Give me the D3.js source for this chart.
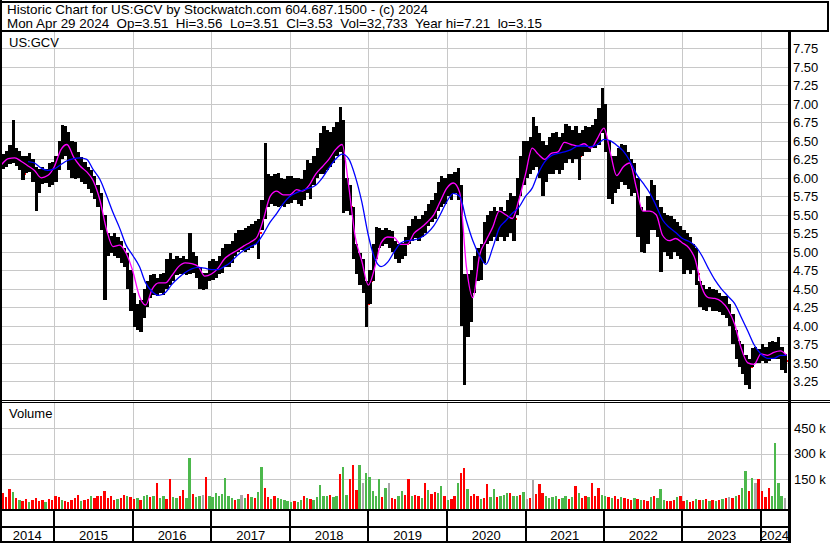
<!DOCTYPE html>
<html>
<head>
<meta charset="utf-8">
<script src="https://cdn.jsdelivr.net/npm/d3@7"></script>
<style>
  body { margin: 0; background: #fff; }
  svg { display: block; font-family: 'Liberation Sans', Arial, sans-serif; }
</style>
</head>
<body>
<svg id="chart" width="830" height="543"></svg>
<script>
'use strict';

// ---- chart text ----
const headerLine1 = 'Historic Chart for US:GCV by Stockwatch.com 604.687.1500 - (c) 2024';
const headerLine2 = 'Mon Apr 29 2024  Op=3.51  Hi=3.56  Lo=3.51  Cl=3.53  Vol=32,733  Year hi=7.21  lo=3.15';
const symbol = 'US:GCV';
const years = [2014, 2015, 2016, 2017, 2018, 2019, 2020, 2021, 2022, 2023, 2024];
const priceTicks = [7.75, 7.5, 7.25, 7.0, 6.75, 6.5, 6.25, 6.0, 5.75, 5.5, 5.25, 5.0, 4.75, 4.5, 4.25, 4.0, 3.75, 3.5, 3.25];
const volumeTicks = [150, 300, 450];   // thousands

// ---- half-month bars, May 2014 .. Apr 2024 (1st and 16th of each month) ----
const barHigh = [
  6.32, 6.36, 6.45, 6.78, 6.4, 6.36, 6.3, 6.3, 6.34, 6.26, 6.15, 6.12, 6.15, 6.12, 6.2, 6.22,
  6.3, 6.5, 6.72, 6.7, 6.62, 6.5, 6.48, 6.35, 6.28, 6.22, 6.15, 6.1, 6.02, 5.9, 5.8, 5.5, 5.25, 5.22, 5.25, 5.2, 5.15, 5.05, 4.98, 4.75,
  4.45, 4.3, 4.35, 4.5, 4.6, 4.68, 4.7, 4.65, 4.7, 4.72, 4.9, 4.98, 4.9, 4.95, 4.92, 4.95, 4.9, 5.25, 5.0, 4.95, 4.8, 4.72, 4.72, 4.88,
  4.9, 4.88, 4.95, 5.05, 5.1, 5.1, 5.15, 5.25, 5.3, 5.3, 5.32, 5.35, 5.38, 5.42, 5.45, 5.7, 6.47, 6.05, 6.02, 6.05, 6.06, 6.0, 5.98, 6.02,
  6.02, 6.0, 6.0, 5.98, 6.1, 6.24, 6.2, 6.3, 6.4, 6.6, 6.7, 6.65, 6.62, 6.68, 6.75, 6.96, 6.78, 6.0, 5.9, 5.6, 5.1, 4.98, 4.9, 4.6,
  4.75, 5.1, 5.34, 5.32, 5.3, 5.32, 5.3, 5.28, 5.15, 5.1, 5.12, 5.2, 5.35, 5.45, 5.48, 5.45, 5.5, 5.55, 5.65, 5.7, 5.8, 5.95, 6.02, 6.0,
  6.05, 6.05, 6.08, 6.13, 5.9, 4.7, 4.7, 4.75, 4.95, 5.05, 5.1, 5.4, 5.5, 5.55, 5.6, 5.55, 5.6, 5.55, 5.7, 5.79, 5.75, 6.0, 6.3, 6.5,
  6.5, 6.55, 6.82, 6.7, 6.6, 6.5, 6.45, 6.55, 6.6, 6.62, 6.55, 6.6, 6.73, 6.7, 6.65, 6.7, 6.6, 6.65, 6.7, 6.68, 6.72, 6.8, 6.95, 7.21,
  7.0, 6.5, 6.3, 6.3, 6.4, 6.46, 6.45, 6.35, 6.25, 6.2, 6.0, 5.6, 5.55, 5.75, 5.97, 5.9, 5.7, 5.6, 5.52, 5.5, 5.48, 5.45, 5.4, 5.35,
  5.3, 5.25, 5.2, 5.1, 5.05, 4.6, 4.55, 4.5, 4.52, 4.5, 4.48, 4.45, 4.4, 4.4, 4.3, 4.16, 3.95, 3.8, 3.75, 3.6, 3.55, 3.7, 3.72, 3.68,
  3.75, 3.72, 3.78, 3.8, 3.78, 3.85, 3.72, 3.62
];
const barLow = [
  6.12, 6.14, 6.18, 6.2, 6.16, 6.1, 5.97, 6.06, 6.08, 5.95, 5.55, 5.8, 5.92, 5.93, 5.88, 5.9,
  5.95, 6.1, 6.25, 6.3, 6.1, 6.0, 5.98, 6.0, 5.95, 5.92, 5.85, 5.8, 5.72, 5.6, 5.3, 4.35, 4.95, 4.98, 4.95, 4.92, 4.85, 4.8, 4.5, 4.2,
  3.98, 3.95, 3.92, 4.1, 4.25, 4.38, 4.42, 4.4, 4.45, 4.42, 4.5, 4.55, 4.6, 4.68, 4.7, 4.7, 4.68, 4.7, 4.72, 4.65, 4.5, 4.48, 4.5, 4.6,
  4.62, 4.65, 4.7, 4.72, 4.8, 4.8, 4.85, 4.95, 5.0, 5.02, 5.0, 5.02, 5.05, 5.1, 4.9, 5.3, 5.45, 5.6, 5.65, 5.62, 5.6, 5.62, 5.6, 5.65,
  5.66, 5.7, 5.65, 5.62, 5.7, 5.8, 5.72, 5.9, 6.0, 6.05, 6.05, 6.1, 6.15, 6.2, 6.3, 6.35, 5.52, 5.55, 5.5, 4.9, 4.7, 4.55, 4.45, 3.99,
  4.3, 4.6, 4.9, 5.05, 5.08, 5.1, 5.05, 5.0, 4.9, 4.85, 4.9, 4.95, 5.1, 5.15, 5.18, 5.15, 5.2, 5.25, 5.35, 5.4, 5.45, 5.55, 5.6, 5.65,
  5.75, 5.7, 5.8, 5.7, 4.0, 3.2, 3.85, 4.05, 4.45, 4.6, 4.62, 4.85, 5.1, 5.15, 5.2, 5.15, 5.2, 5.15, 5.2, 5.25, 5.15, 5.5, 5.75, 5.9,
  6.0, 6.05, 6.1, 6.15, 6.0, 5.76, 5.95, 6.05, 6.05, 6.1, 6.05, 6.1, 6.2, 6.25, 6.2, 6.25, 5.97, 6.3, 6.35, 6.35, 6.4, 6.4, 6.45, 6.6,
  6.35, 5.72, 5.65, 5.8, 5.85, 5.95, 5.9, 5.85, 5.75, 5.8, 5.2, 5.0, 4.98, 5.1, 5.3, 5.3, 5.2, 4.73, 5.0, 4.95, 4.9, 5.0, 4.95, 4.9,
  4.7, 4.75, 4.7, 4.75, 4.55, 4.25, 4.22, 4.2, 4.25, 4.2, 4.2, 4.18, 4.15, 4.1, 4.0, 3.75, 3.55, 3.45, 3.35, 3.2, 3.15, 3.45, 3.5, 3.5,
  3.52, 3.5, 3.52, 3.55, 3.55, 3.55, 3.4, 3.36
];
const barClose = [
  6.2, 6.28, 6.3, 6.32, 6.25, 6.22, 6.05, 6.2, 6.18, 6.1, 5.85, 6.0, 6.05, 6.02, 6.1, 6.08,
  6.2, 6.4, 6.5, 6.45, 6.35, 6.3, 6.25, 6.2, 6.12, 6.05, 6.0, 5.95, 5.85, 5.7, 5.45, 5.1, 5.1, 5.15, 5.05, 5.0, 4.95, 4.88, 4.6, 4.3,
  4.1, 4.05, 4.15, 4.35, 4.45, 4.55, 4.5, 4.55, 4.6, 4.55, 4.75, 4.7, 4.8, 4.8, 4.85, 4.8, 4.78, 4.85, 4.82, 4.75, 4.6, 4.55, 4.65, 4.72,
  4.78, 4.8, 4.82, 4.9, 4.98, 4.95, 5.0, 5.1, 5.15, 5.2, 5.15, 5.2, 5.25, 5.3, 5.25, 5.55, 5.8, 5.85, 5.8, 5.9, 5.85, 5.8, 5.78, 5.85,
  5.85, 5.9, 5.8, 5.75, 5.95, 6.05, 5.95, 6.15, 6.25, 6.35, 6.4, 6.35, 6.4, 6.45, 6.55, 6.6, 5.8, 5.75, 5.6, 5.05, 4.85, 4.7, 4.55, 4.3,
  4.6, 4.95, 5.15, 5.2, 5.22, 5.2, 5.15, 5.1, 5.0, 4.95, 5.05, 5.1, 5.25, 5.3, 5.35, 5.3, 5.38, 5.4, 5.5, 5.55, 5.65, 5.8, 5.85, 5.9,
  5.95, 5.9, 6.0, 5.85, 4.3, 4.0, 4.4, 4.5, 4.75, 4.85, 4.9, 5.2, 5.3, 5.35, 5.4, 5.35, 5.45, 5.3, 5.45, 5.5, 5.45, 5.8, 6.1, 6.3,
  6.25, 6.35, 6.5, 6.45, 6.3, 6.1, 6.2, 6.3, 6.35, 6.4, 6.3, 6.35, 6.5, 6.5, 6.45, 6.45, 6.3, 6.5, 6.55, 6.5, 6.55, 6.6, 6.7, 6.9,
  6.5, 6.0, 5.95, 6.05, 6.15, 6.2, 6.15, 6.1, 6.0, 5.95, 5.45, 5.3, 5.2, 5.45, 5.55, 5.6, 5.4, 5.2, 5.25, 5.2, 5.2, 5.25, 5.15, 5.1,
  5.05, 5.0, 4.95, 4.9, 4.7, 4.4, 4.35, 4.35, 4.4, 4.35, 4.35, 4.3, 4.25, 4.2, 4.1, 3.85, 3.7, 3.55, 3.5, 3.4, 3.45, 3.6, 3.62, 3.6,
  3.62, 3.6, 3.65, 3.7, 3.68, 3.65, 3.55, 3.53
];
// volume in thousands of shares
const barVolume = [
  70, 45, 95, 75, 40, 30, 25, 35, 20, 30, 40, 25, 30, 20, 35, 30,
  55, 45, 30, 25, 20, 30, 40, 60, 25, 30, 35, 55, 40, 55, 50, 80, 40, 55, 30, 35, 40, 60, 55, 45,
  35, 40, 30, 55, 60, 45, 50, 127, 40, 55, 35, 150, 45, 40, 50, 86, 40, 276, 65, 45, 50, 60, 165, 55,
  45, 70, 55, 65, 160, 50, 40, 30, 35, 60, 40, 65, 45, 40, 75, 224, 98, 45, 35, 50, 40, 35, 30, 25,
  20, 25, 20, 30, 55, 40, 35, 30, 45, 115, 50, 55, 60, 45, 55, 180, 224, 60, 150, 231, 90, 231, 127, 189,
  165, 80, 55, 154, 45, 100, 130, 40, 35, 55, 80, 60, 154, 55, 60, 50, 40, 130, 90, 65, 78, 70, 111, 50,
  30, 35, 55, 130, 189, 218, 95, 50, 65, 55, 35, 40, 125, 45, 96, 45, 55, 60, 72, 70, 55, 50, 60, 75,
  35, 40, 145, 65, 120, 70, 55, 40, 45, 55, 35, 40, 50, 35, 45, 111, 70, 40, 50, 45, 130, 55, 98, 60,
  55, 45, 40, 50, 35, 45, 40, 35, 30, 40, 35, 30, 30, 25, 45, 50, 40, 96, 30, 25, 25, 30, 45, 55,
  25, 30, 20, 25, 35, 30, 30, 35, 25, 30, 25, 30, 35, 40, 45, 40, 50, 60, 98, 198, 80, 156, 130, 154,
  80, 45, 98, 50, 363, 130, 55, 40
];
// g = up, r = down, n = unchanged
const barDirection =
  'rrrgrgrrgrrrrgrr' +
  'rrgrrrrrgrrgrrrrrrrgrrgr' +
  'rgrggrgrggrrggrrggrggnrg' +
  'gggggggrgngrgrggrrgrgggg' +
  'grggrgrgggggrggrggrrrgng' +
  'ggggrgnrrggrrgrrgrgrrggr' +
  'grrgrrgrrrgrrggrgggrggrg' +
  'nrnrrrggggrggrgrgrrgrrrg' +
  'grgrrgrrrgrgrrgrgggrrrgr' +
  'rgrrgrgrgrgrgrnrgrggrgnr' +
  'rrrggggn';

// ---- moving averages, sampled on the 1st of each month + last day ----
const maFast = [
  6.18, 6.26, 6.27, 6.22, 6.16, 6.1, 6.0, 6.03,
  6.15, 6.38, 6.45, 6.28, 6.16, 6.08, 5.96, 5.7, 5.3, 5.07, 5.09, 4.98,
  4.74, 4.4, 4.28, 4.5, 4.58, 4.58, 4.68, 4.8, 4.85, 4.84, 4.8, 4.67,
  4.7, 4.78, 4.9, 4.97, 5.02, 5.08, 5.13, 5.2, 5.45, 5.75, 5.82, 5.77,
  5.77, 5.84, 5.82, 5.9, 6.05, 6.15, 6.25, 6.38, 6.45, 5.9, 5.2, 4.88,
  4.55, 4.8, 5.12, 5.2, 5.19, 5.1, 5.1, 5.25, 5.32, 5.4, 5.5, 5.68,
  5.86, 5.93, 5.8, 4.8, 4.38, 4.95, 5.15, 5.33, 5.55, 5.5, 5.45, 5.7,
  6.05, 6.4, 6.32, 6.25, 6.33, 6.35, 6.48, 6.45, 6.43, 6.46, 6.4, 6.53,
  6.67, 6.32, 6.03, 6.15, 6.2, 5.86, 5.55, 5.55, 5.5, 5.22, 5.15, 5.18,
  5.12, 5.05, 4.9, 4.52, 4.38, 4.37, 4.33, 4.22, 4.02, 3.7, 3.5, 3.48,
  3.62, 3.6, 3.64, 3.66, 3.6
];
const maSlow = [
  null, null, null, null, 6.22, 6.2, 6.13, 6.1,
  6.12, 6.18, 6.23, 6.26, 6.27, 6.25, 6.11, 5.98, 5.76, 5.53, 5.32, 5.09,
  4.95, 4.8, 4.58, 4.46, 4.41, 4.45, 4.56, 4.65, 4.72, 4.77, 4.79, 4.78,
  4.76, 4.76, 4.8, 4.86, 4.95, 5.02, 5.07, 5.12, 5.25, 5.4, 5.52, 5.65,
  5.75, 5.8, 5.83, 5.86, 5.9, 6.0, 6.13, 6.25, 6.32, 6.26, 6.02, 5.68,
  5.22, 4.9, 4.8, 4.86, 5.0, 5.12, 5.15, 5.16, 5.19, 5.25, 5.35, 5.5,
  5.68, 5.79, 5.75, 5.42, 5.15, 4.95, 4.83, 5.05, 5.32, 5.42, 5.52, 5.6,
  5.75, 5.86, 6.06, 6.22, 6.3, 6.33, 6.35, 6.38, 6.43, 6.43, 6.42, 6.45,
  6.52, 6.5, 6.44, 6.36, 6.23, 6.05, 5.93, 5.8, 5.62, 5.43, 5.33, 5.26,
  5.18, 5.14, 5.08, 4.95, 4.78, 4.62, 4.5, 4.4, 4.3, 4.12, 3.93, 3.74,
  3.62, 3.56, 3.56, 3.6, 3.6
];

(function() {
  const svg = d3.select('#chart');

  // panel geometry
  const plotLeft = 2;
  const plotRight = 788;
  const priceTop = 32;
  const priceBottom = 400;
  const volTop = 403;
  const volBottom = 509;
  const grid = '#c8c8c8';

  const months = d3.timeMonth.range(new Date(2014, 4, 1), new Date(2024, 4, 1));
  const barDates = [];
  months.forEach(m => { barDates.push(m, new Date(m.getFullYear(), m.getMonth(), 16)); });
  const maDates = months.concat([new Date(2024, 3, 29)]);
  const lastDate = new Date(2024, 3, 30);

  const bars = barDates.map((d, i) => ({
    date: d,
    next: i + 1 < barDates.length ? barDates[i + 1] : lastDate,
    high: barHigh[i], low: barLow[i], close: barClose[i],
    volume: barVolume[i] * 1000, dir: barDirection[i]
  }));

  const x = d3.scaleTime()
      .domain([new Date(2015, 0, 1), new Date(2024, 0, 1)])
      .range([54.3, 760.9]);
  const y = d3.scaleLinear().domain([3.25, 7.75]).range([381.3, 48.3]);
  const yVol = d3.scaleLinear().domain([0, 450000]).range([505, 428]);

  const yearX = years.map(yr => x(new Date(yr, 0, 1)));
  const px = v => Math.round(v) + 0.5;

  svg.append('rect').attr('width', 830).attr('height', 543).attr('fill', '#fff');

  // clip paths for the two panels
  const defs = svg.append('defs');
  defs.append('clipPath').attr('id', 'clipPrice').append('rect')
      .attr('x', plotLeft).attr('y', priceTop)
      .attr('width', plotRight - plotLeft).attr('height', priceBottom - priceTop);
  defs.append('clipPath').attr('id', 'clipVol').append('rect')
      .attr('x', plotLeft).attr('y', volTop)
      .attr('width', plotRight - plotLeft).attr('height', volBottom - volTop);

  // grid lines
  const gridG = svg.append('g').attr('stroke', grid).attr('stroke-width', 1)
      .attr('shape-rendering', 'crispEdges');
  gridG.selectAll('.hp').data(priceTicks).enter().append('line')
      .attr('x1', plotLeft).attr('x2', plotRight)
      .attr('y1', d => px(y(d))).attr('y2', d => px(y(d)));
  gridG.selectAll('.hv').data(volumeTicks).enter().append('line')
      .attr('x1', plotLeft).attr('x2', plotRight)
      .attr('y1', d => px(yVol(d * 1000))).attr('y2', d => px(yVol(d * 1000)));
  gridG.selectAll('.vp').data(yearX.slice(1)).enter().append('line')
      .attr('x1', d => px(d)).attr('x2', d => px(d))
      .attr('y1', priceTop).attr('y2', priceBottom);
  gridG.selectAll('.vv').data(yearX.slice(1)).enter().append('line')
      .attr('x1', d => px(d)).attr('x2', d => px(d))
      .attr('y1', volTop).attr('y2', volBottom);

  // price bars: red close ticks first, black high-low bars over them
  const priceG = svg.append('g').attr('clip-path', 'url(#clipPrice)')
      .attr('shape-rendering', 'crispEdges');
  priceG.selectAll('.tick').data(bars).enter().append('rect')
      .attr('x', d => x(d.next) - 0.5)
      .attr('y', d => y(d.close) - 1)
      .attr('width', 2).attr('height', 2)
      .attr('fill', '#ff0000');
  priceG.selectAll('.bar').data(bars).enter().append('rect')
      .attr('x', d => x(d.date))
      .attr('y', d => y(d.high))
      .attr('width', d => Math.max(1, x(d.next) - x(d.date)))
      .attr('height', d => Math.max(1, y(d.low) - y(d.high)))
      .attr('fill', '#000');

  // moving averages
  const maLine = values => d3.line()
      .defined((d, i) => values[i] !== null)
      .x((d, i) => x(maDates[i]))
      .y((d, i) => y(values[i]))
      .curve(d3.curveMonotoneX)(maDates);
  const lineG = svg.append('g').attr('clip-path', 'url(#clipPrice)').attr('fill', 'none');
  lineG.append('path').attr('d', maLine(maFast)).attr('stroke', '#ff00ff').attr('stroke-width', 1.3);
  lineG.append('path').attr('d', maLine(maSlow)).attr('stroke', '#0000ff').attr('stroke-width', 1.3);

  // volume bars
  const volColor = { g: '#4cb84c', r: '#ff0000', n: '#a8a8a8' };
  svg.append('g').attr('clip-path', 'url(#clipVol)').attr('shape-rendering', 'crispEdges')
    .selectAll('rect').data(bars).enter().append('rect')
      .attr('x', d => x(d.date))
      .attr('y', d => yVol(d.volume))
      .attr('width', d => Math.max(1, x(d.next) - x(d.date) - 0.9))
      .attr('height', d => volBottom - yVol(d.volume))
      .attr('fill', d => volColor[d.dir]);

  // frame
  const frame = svg.append('g').attr('stroke', '#000').attr('shape-rendering', 'crispEdges');
  frame.append('line').attr('x1', 0).attr('x2', 829).attr('y1', 2).attr('y2', 2).attr('stroke-width', 2);
  frame.append('line').attr('x1', 828).attr('x2', 828).attr('y1', 1).attr('y2', 32).attr('stroke-width', 2);
  frame.append('line').attr('x1', 0).attr('x2', 829).attr('y1', 31).attr('y2', 31).attr('stroke-width', 2);
  frame.append('line').attr('x1', 1).attr('x2', 1).attr('y1', 0).attr('y2', 543).attr('stroke-width', 2);
  frame.append('line').attr('x1', 789).attr('x2', 789).attr('y1', 30).attr('y2', 543).attr('stroke-width', 3);
  frame.append('line').attr('x1', 0).attr('x2', 830).attr('y1', 400.5).attr('y2', 400.5).attr('stroke-width', 1);
  frame.append('line').attr('x1', 0).attr('x2', 830).attr('y1', 402.5).attr('y2', 402.5).attr('stroke-width', 1);
  frame.append('line').attr('x1', 0).attr('x2', 789).attr('y1', 510).attr('y2', 510).attr('stroke-width', 2.5);
  frame.append('line').attr('x1', 0).attr('x2', 789).attr('y1', 527).attr('y2', 527).attr('stroke-width', 2);
  frame.append('line').attr('x1', 0).attr('x2', 789).attr('y1', 541.5).attr('y2', 541.5).attr('stroke-width', 2);
  frame.selectAll('.sep').data(yearX.slice(1)).enter().append('line')
      .attr('x1', d => Math.round(d)).attr('x2', d => Math.round(d))
      .attr('y1', 510).attr('y2', 541).attr('stroke-width', 2);

  // header text
  svg.append('text').attr('x', 7).attr('y', 13.5)
      .attr('font-size', '13.4px').attr('textLength', 421).attr('lengthAdjust', 'spacing')
      .text(headerLine1);
  svg.append('text').attr('x', 7).attr('y', 28)
      .attr('font-size', '13.4px').attr('textLength', 535).attr('lengthAdjust', 'spacing')
      .attr('xml:space', 'preserve').style('white-space', 'pre')
      .text(headerLine2);

  // panel labels
  svg.append('text').attr('x', 9).attr('y', 46.5).attr('font-size', '13px').text(symbol);
  svg.append('text').attr('x', 9).attr('y', 418).attr('font-size', '13px').text('Volume');

  // right axis labels
  svg.append('g').attr('font-size', '13px')
    .selectAll('text').data(priceTicks).enter().append('text')
      .attr('x', 793).attr('y', d => y(d) + 4.7)
      .text(d => d.toFixed(2));
  svg.append('g').attr('font-size', '13px')
    .selectAll('text').data(volumeTicks).enter().append('text')
      .attr('x', 794).attr('y', d => yVol(d * 1000) + 4.7)
      .text(d => d + ' k');

  // year labels, centred in each year cell
  svg.append('g').attr('font-size', '13px').attr('text-anchor', 'middle')
    .selectAll('text').data(years).enter().append('text')
      .attr('x', (d, i) => {
        const a = i === 0 ? 0 : yearX[i];
        const b = i + 1 < yearX.length ? yearX[i + 1] : plotRight;
        return (a + b) / 2;
      })
      .attr('y', 539.5)
      .text(d => d);
})();
</script>
</body>
</html>
